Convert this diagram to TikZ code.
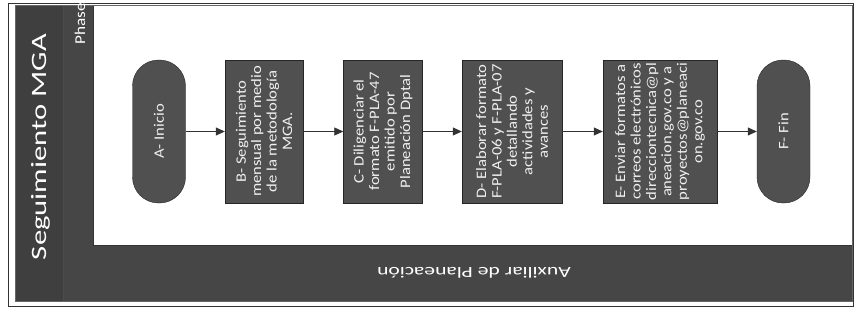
\documentclass[tikz,border=0pt]{standalone}
\usepackage{fontspec}
\setmainfont{Carlito}
\newfontfamily\widefont[FakeStretch=1.4]{Carlito}
\newfontfamily\boxfont[FakeStretch=1.15]{Carlito}
\usetikzlibrary{arrows.meta}
\definecolor{bandgray}{HTML}{464646}
\definecolor{titlegray}{HTML}{3F3F3F}
\definecolor{shapegray}{HTML}{505050}
\definecolor{textgray}{HTML}{F0F0F0}
\begin{document}
\begin{tikzpicture}[x=1bp,y=-1bp,
  proc/.style={draw=black!85, fill=shapegray, rotate=90, text=textgray, align=center,
    font=\boxfont\fontsize{14.5}{15.5}\selectfont, inner sep=1bp, minimum width=143bp},
  term/.style={draw=black!85, fill=shapegray, rotate=90, text=textgray, rounded corners=26bp,
    minimum width=143bp, minimum height=53bp, font=\boxfont\fontsize{14.5}{15.5}\selectfont},
  flow/.style={draw=black!80, line width=0.8bp, -{Triangle[length=9bp,width=8bp]}},
  bandtext/.style={text=white}]
\useasboundingbox (0,0) rectangle (857,321);
\fill[white] (0,0) rectangle (857,321);
% pool
\fill[titlegray] (15,5) rectangle (63,301);
\fill[bandgray] (63,5) rectangle (93,301);
\fill[bandgray] (93,245) rectangle (852,301);
\draw[black!70, line width=0.6bp] (63,5) -- (63,301);
\draw[black!80, line width=0.8bp] (93,5) -- (93,245) -- (852,245) -- (852,5);
\draw[black!80, line width=1bp] (8,3) rectangle (853,306);
\draw[black!60, line width=0.5bp] (15,5) rectangle (852,301);
% labels
\node[bandtext, rotate=90, font=\widefont\fontsize{22}{24}\selectfont] (title) at (41,147) {Seguimiento MGA};
\node[bandtext, rotate=90, font=\boxfont\fontsize{15}{17}\selectfont] (phase) at (80,24) {Phase};
\node[bandtext, rotate=180, font=\widefont\fontsize{15.5}{17}\selectfont] (lane) at (474,273) {Auxiliar de Planeación};
% nodes
\node[term] (A) at (159,131.5) {A- Inicio};
\node[proc, minimum height=78bp] (B) at (264,131.5) {B- Seguimiento\\mensual por medio\\de la metodología\\MGA.};
\node[proc, minimum height=79bp] (C) at (383,131.5) {C- Diligenciar el\\formato F-PLA-47\\emitido por\\Planeación Dptal};
\node[proc, minimum height=100bp] (D) at (512,131.5) {D- Elaborar formato\\F-PLA-06 y F-PLA-07\\detallando\\actividades y\\avances};
\node[proc, minimum height=114bp] (E) at (660,131.5) {E- Enviar formatos a\\correos electrónicos\\direcciontecnica@pl\\aneacion.gov.co y a\\proyectos@planeaci\\on.gov.co};
\node[term] (F) at (783.5,131.5) {F- Fin};
% connectors
\draw[flow] (A) -- (B);
\draw[flow] (B) -- (C);
\draw[flow] (C) -- (D);
\draw[flow] (D) -- (E);
\draw[flow] (E) -- (F);
\end{tikzpicture}
\end{document}
